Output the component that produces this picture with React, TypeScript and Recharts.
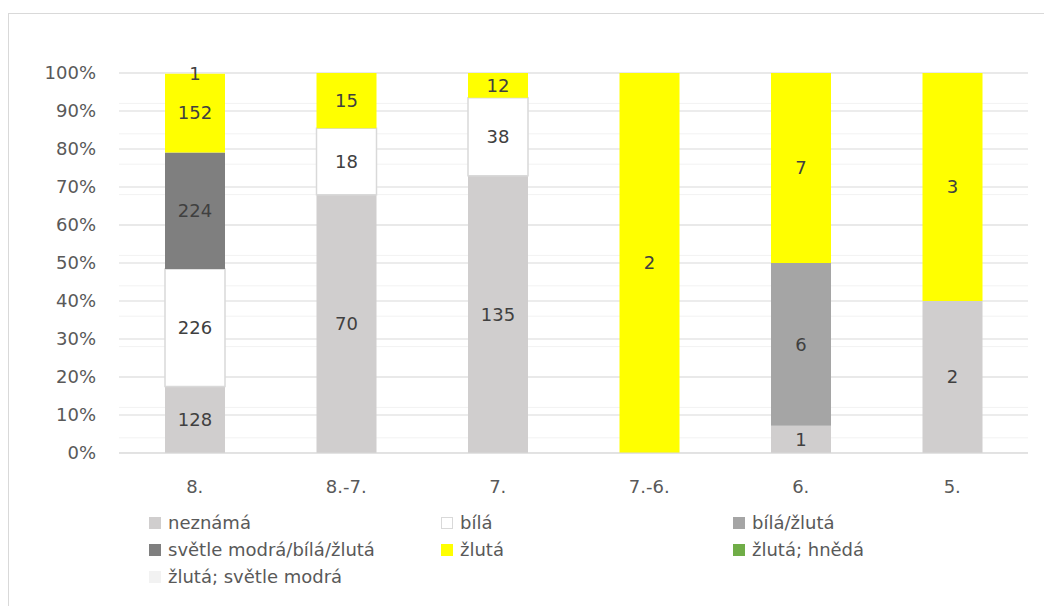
import { Bar, BarChart, CartesianGrid, LabelList, XAxis, YAxis } from "recharts";

const categories = ["8.", "8.-7.", "7.", "7.-6.", "6.", "5."];
const neznama = [128, 70, 135, 0, 1, 2];
const bila = [226, 18, 38, 0, 0, 0];
const bilaZluta = [0, 0, 0, 0, 6, 0];
const svetleModraBilaZluta = [224, 0, 0, 0, 0, 0];
const zluta = [152, 15, 12, 2, 7, 3];
const zlutaHneda = [0, 0, 0, 0, 0, 0];
const zlutaSvetleModra = [1, 0, 0, 0, 0, 0];

const majorTicks = [0, 0.1, 0.2, 0.3, 0.4, 0.5, 0.6, 0.7, 0.8, 0.9, 1];
const minorTicks = Array.from({ length: 51 }, (_, i) => i / 50);

const series = [
  { key: "neznama", name: "neznámá", values: neznama, fill: "#d0cece", stroke: "none" },
  { key: "bila", name: "bílá", values: bila, fill: "#ffffff", stroke: "#d9d9d9" },
  { key: "bilaZluta", name: "bílá/žlutá", values: bilaZluta, fill: "#a5a5a5", stroke: "none" },
  { key: "smbz", name: "světle modrá/bílá/žlutá", values: svetleModraBilaZluta, fill: "#7f7f7f", stroke: "none" },
  { key: "zluta", name: "žlutá", values: zluta, fill: "#ffff00", stroke: "none" },
  { key: "zlutaHneda", name: "žlutá; hnědá", values: zlutaHneda, fill: "#70ad47", stroke: "none" },
  { key: "zlutaSvetleModra", name: "žlutá; světle modrá", values: zlutaSvetleModra, fill: "#f2f2f2", stroke: "none" },
];

const data = categories.map((cat, i) => {
  const row: Record<string, string | number> = { cat };
  series.forEach((s) => {
    row[s.key] = s.values[i];
  });
  return row;
});

const FONT = "'DejaVu Sans', sans-serif";
const FS = 18;

export default function App() {
  return (
    <div
      style={{
        width: 1036,
        height: 598,
        overflow: "hidden",
        paddingTop: 5,
        boxSizing: "border-box",
        fontFamily: FONT,
      }}
    >
      <div
        style={{
          position: "relative",
          width: 1043,
          height: 592,
          borderTop: "1px solid #d9d9d9",
          borderLeft: "1px solid #d9d9d9",
          background: "#fff",
        }}
      >
        <BarChart
          width={1043}
          height={592}
          data={data}
          stackOffset="expand"
          barSize={60}
          margin={{ top: 59, right: 24, left: 50, bottom: 123 }}
        >
          <CartesianGrid
            vertical={false}
            horizontalValues={minorTicks}
            stroke="#f2f2f2"
          />
          <CartesianGrid
            vertical={false}
            horizontalValues={majorTicks}
            stroke="#d9d9d9"
          />
          <XAxis
            dataKey="cat"
            height={30}
            axisLine={{ stroke: "#d9d9d9" }}
            tickLine={false}
            tickSize={0}
            tickMargin={27}
            tick={{ fill: "#595959", fontSize: FS, fontFamily: FONT }}
          />
          <YAxis
            width={60}
            domain={[0, 1]}
            ticks={majorTicks}
            tickFormatter={(v: number) => `${Math.round(v * 100)}%`}
            axisLine={false}
            tickLine={false}
            tickSize={0}
            tickMargin={23}
            tick={{ fill: "#595959", fontSize: FS, fontFamily: FONT }}
          />
          {series.map((s) => (
            <Bar
              key={s.key}
              dataKey={s.key}
              name={s.name}
              stackId="a"
              fill={s.fill}
              stroke={s.stroke}
              strokeWidth={s.stroke === "none" ? 0 : 1.5}
              isAnimationActive={false}
            >
              <LabelList
                dataKey={s.key}
                position="center"
                fill="#404040"
                fontSize={FS}
                fontFamily={FONT}
                formatter={(v: number) => (v ? v : "")}
              />
            </Bar>
          ))}
        </BarChart>

        {/* Legend, three columns like the original */}
        <div
          style={{
            position: "absolute",
            left: 140,
            top: 495,
            display: "grid",
            gridTemplateColumns: "292px 292px 292px",
            gridAutoRows: "27px",
            fontSize: FS,
            color: "#595959",
          }}
        >
          {series.map((s) => (
            <div key={s.key} style={{ display: "flex", alignItems: "center", whiteSpace: "nowrap" }}>
              <span
                style={{
                  display: "inline-block",
                  width: 12,
                  height: 12,
                  marginRight: 7,
                  background: s.fill,
                  border: s.stroke === "none" ? "none" : `1px solid ${s.stroke}`,
                  boxSizing: "border-box",
                }}
              />
              <span>{s.name}</span>
            </div>
          ))}
        </div>
      </div>
    </div>
  );
}
